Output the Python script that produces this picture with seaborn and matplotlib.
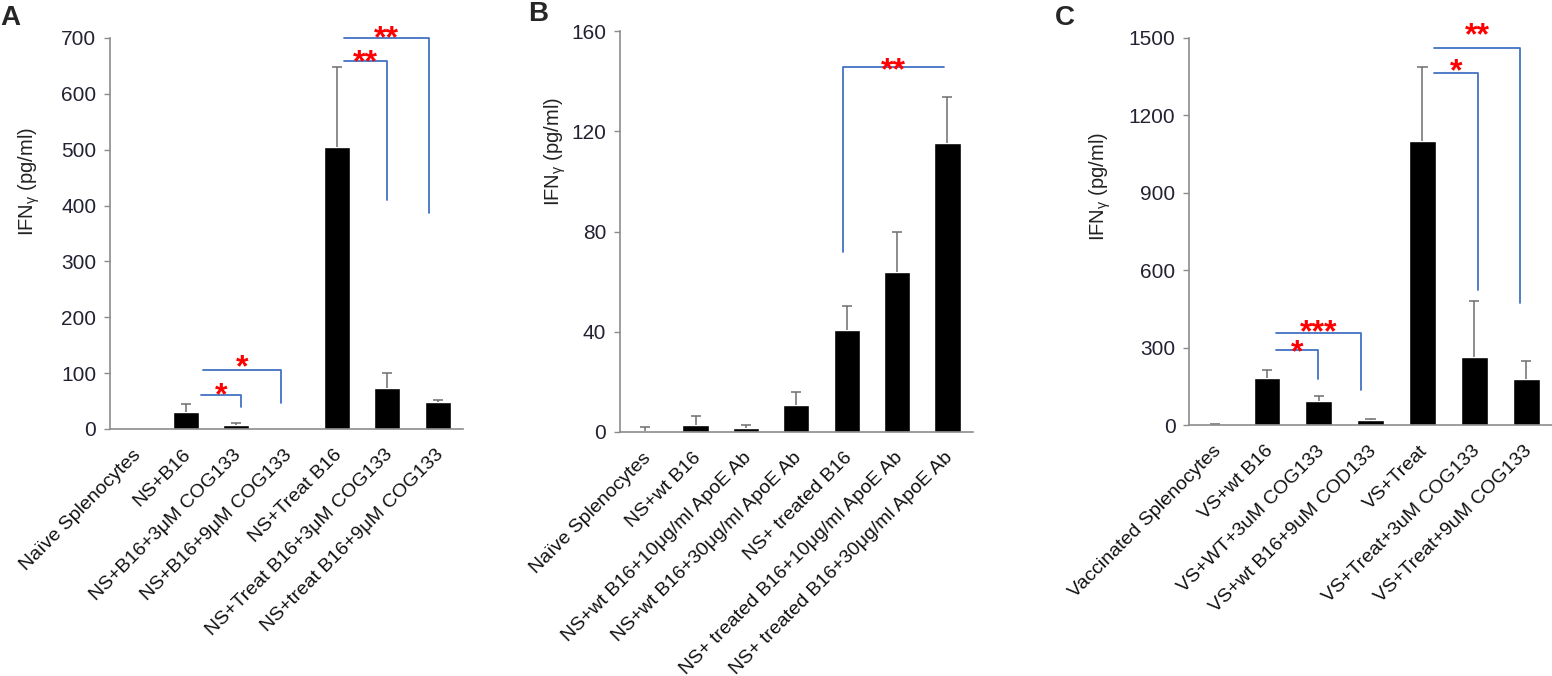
import numpy as np
import pandas as pd
import matplotlib
matplotlib.use("Agg")
import matplotlib.pyplot as plt
import seaborn as sns

# Panel A
a_labels = ["Naïve Splenocytes", "NS+B16", "NS+B16+3μM COG133", "NS+B16+9μM COG133",
            "NS+Treat B16", "NS+Treat B16+3μM COG133", "NS+treat B16+9μM COG133"]
a_means = [0, 31, 7, 0, 505, 74, 48]
a_tops = [0, 45, 11, 0, 648, 100, 52]
# (left x, right x, bracket height, drop-to value, stars, star gap px)
a_brackets = [(1.3, 2.1, 61, 40, "*", 9), (1.34, 2.9, 105, 46, "*", 12),
              (4.14, 5.0, 659, 410, "**", 8), (4.14, 5.82, 700, 387, "**", 9)]

# Panel B
b_labels = ["Naïve Splenocytes", "NS+wt B16", "NS+wt B16+10μg/ml ApoE Ab",
            "NS+wt B16+30μg/ml ApoE Ab", "NS+ treated B16",
            "NS+ treated B16+10μg/ml ApoE Ab", "NS+ treated B16+30μg/ml ApoE Ab"]
b_means = [0.5, 2.8, 1.6, 10.8, 40.7, 64, 115.4]
b_tops = [2, 6.4, 2.7, 16, 50.4, 80, 133.7]
b_brackets = [(5.93, 3.92, 145.5, 71.7, "**", 6)]  # drop on the left side

# Panel C
c_labels = ["Vaccinated Splenocytes", "VS+wt B16", "VS+WT+3uM COG133", "VS+wt B16+9uM COD133",
            "VS+Treat", "VS+Treat+3uM COG133", "VS+Treat+9uM COG133"]
c_means = [4, 182, 94, 20, 1099, 265, 178]
c_tops = [6, 213, 113, 24, 1385, 481, 250]
c_brackets = [(1.18, 1.98, 291, 179, "*", 7), (1.18, 2.81, 356, 137, "***", 10),
              (4.23, 5.08, 1365, 524, "*", 11), (4.23, 5.89, 1462, 472, "**", 21)]

sns.set_style("white")
plt.rcParams["font.family"] = ["Liberation Sans", "DejaVu Sans"]
plt.rcParams["mathtext.default"] = "regular"

fig = plt.figure(figsize=(15.52, 6.76), dpi=100)

panels = [
    ("A", a_labels, a_means, a_tops, 700, [0, 100, 200, 300, 400, 500, 600, 700],
     [0.0709, 0.3654, 0.2274, 0.5784], (-0.193, 0.632), (0.0, 0.973), a_brackets),
    ("B", b_labels, b_means, b_tops, 160, [0, 40, 80, 120, 160],
     [0.3995, 0.3610, 0.2272, 0.5930], (-0.148, 0.70), (0.340, 0.979), b_brackets),
    ("C", c_labels, c_means, c_tops, 1500, [0, 300, 600, 900, 1200, 1500],
     [0.7663, 0.3709, 0.2337, 0.5733], (-0.21, 0.615), (0.680, 0.973), c_brackets),
]

blue = "#4472C4"
grey = "#8c8c8c"
star_size = 23

for letter, labels, means, tops, ymax, yticks, rect, ylab_pos, let_pos, brackets in panels:
    ax = fig.add_axes(rect)
    df = pd.DataFrame({"group": labels, "value": means})
    sns.barplot(data=df, x="group", y="value", order=labels, color="black",
                width=0.52, errorbar=None, saturation=1, ax=ax)
    x = np.arange(len(labels))
    m = np.array(means, dtype=float)
    t = np.array(tops, dtype=float)
    keep = t > m
    ax.vlines(x[keep], m[keep], t[keep], color="#6e6e6e", lw=1.1)
    ax.hlines(t[keep], x[keep] - 0.1, x[keep] + 0.1, color="#6e6e6e", lw=1.1)
    ax.set_xlim(-0.5, 6.5)
    ax.set_ylim(0, ymax)
    ax.set_yticks(yticks)
    ax.set_xlabel("")
    ax.set_ylabel("IFN$_\\gamma$ (pg/ml)", fontsize=14.5, color="#222222")
    ax.yaxis.set_label_coords(*ylab_pos)
    # rotated labels end a little right of the bar centre, as in the original
    ax.set_xticks(x + 0.12)
    ax.set_xticklabels(labels, rotation=45, ha="right", va="baseline",
                       rotation_mode="anchor", fontsize=14, color="#111111")
    ax.tick_params(axis="x", length=0, pad=19)
    ax.tick_params(axis="y", length=4, width=1, color=grey, direction="out",
                   labelsize=15, labelcolor="#222233", pad=6, left=True)
    for s in ["top", "right"]:
        ax.spines[s].set_visible(False)
    for s in ["left", "bottom"]:
        ax.spines[s].set_color(grey)
        ax.spines[s].set_linewidth(1.2)
    for x0, x1, yt, yd, star, gap in brackets:
        ax.plot([x0, x1, x1], [yt, yt, yd], color=blue, lw=1.3, clip_on=False)
        # asterisk glyph centre sits ~0.57em above baseline
        ax.annotate(star, xy=((x0 + x1) / 2, yt),
                    xytext=(0, gap * 0.72 - 0.57 * star_size),
                    textcoords="offset points", color="red", fontsize=star_size,
                    fontweight="bold", ha="center", va="baseline",
                    annotation_clip=False)
    fig.text(let_pos[0], let_pos[1], letter, fontsize=20, fontweight="bold",
             ha="left", va="center")

fig.savefig("out.png", dpi=100)
